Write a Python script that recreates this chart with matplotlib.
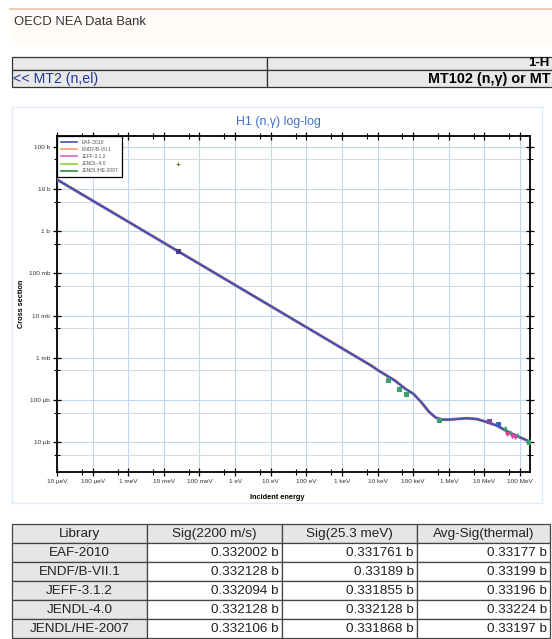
import matplotlib
matplotlib.use("Agg")

import matplotlib.pyplot as plt
from matplotlib.patches import Rectangle
from matplotlib.ticker import FixedLocator, FixedFormatter, LogLocator, NullFormatter

plt.rcParams["font.family"] = ["Liberation Sans", "DejaVu Sans"]

# ===========================================
# DATA
# ===========================================

LIBRARIES = ["EAF-2010", "ENDF/B-VII.1", "JEFF-3.1.2", "JENDL-4.0", "JENDL/HE-2007"]
LIB_COLORS = ["#4052c0", "#ff9a6a", "#d46ad0", "#8fcf3a", "#2f8a4a"]

# evaluated H1 (n,g) cross section (eV, barn)
ENERGY = [1e-5, 1e-4, 1e-3, 1e-2, 2.53e-2, 1e-1, 1.0, 10.0, 1e2, 1e3,
          6.7e3, 1e4, 3e4, 6e4, 1e5, 1.67e5, 2.78e5, 4.27e5, 6.56e5, 1e6,
          3.2e6, 6.2e6, 1e7, 2.2e7, 5.1e7, 1e8, 1.9e8]
SIGMA = [16.7, 5.28, 1.67, 0.528, 0.332, 0.167, 0.0528, 0.0167, 5.28e-3, 1.67e-3,
         6.45e-4, 5.1e-4, 2.9e-4, 1.83e-4, 1.4e-4, 8.9e-5, 5.2e-5, 3.8e-5, 3.4e-5, 3.4e-5,
         3.67e-5, 3.5e-5, 3.1e-5, 2.47e-5, 1.66e-5, 1.29e-5, 1.02e-5]

# experimental points
EXP_ENERGY = [0.0253, 0.0253, 2.0e4, 4.1e4, 6.3e4, 5.25e5, 1.35e7, 2.4e7,
              3.76e7, 5.1e7, 8.0e7, 4.2e7, 5.8e7, 7.4e7, 1.8e8]
EXP_SIGMA = [39.0, 0.332, 3.0e-4, 1.83e-4, 1.4e-4, 3.3e-5, 3.2e-5, 2.75e-5,
             2.1e-5, 1.75e-5, 1.46e-5, 1.55e-5, 1.38e-5, 1.33e-5, 1.02e-5]
EXP_COLOR = ["#6a8a3a", "#4a3a8a", "#3aa070", "#3aa070", "#3aa070", "#3aa070",
             "#7a4aa0", "#3a60c0", "#3aa070", "#3aa070", "#3aa070",
             "#e040a0", "#e040a0", "#e040a0", "#3aa070"]
EXP_MARKER = ["+", "s", "s", "s", "s", "s", "s", "s", "^", "^", "^", "v", "v", "v", "s"]

X_TICKS = [1e-5, 1e-4, 1e-3, 1e-2, 1e-1, 1, 10, 1e2, 1e3, 1e4, 1e5, 1e6, 1e7, 1e8]
X_LABELS = ["10 µeV", "100 µeV", "1 meV", "10 meV", "100 meV", "1 eV", "10 eV",
            "100 eV", "1 keV", "10 keV", "100 keV", "1 MeV", "10 MeV", "100 MeV"]
Y_TICKS = [1e-5, 1e-4, 1e-3, 1e-2, 1e-1, 1, 10, 100]
Y_LABELS = ["10 µb", "100 µb", "1 mb", "10 mb", "100 mb", "1 b", "10 b", "100 b"]

TABLE_HEADER = ["Library", "Sig(2200 m/s)", "Sig(25.3 meV)", "Avg-Sig(thermal)"]
SIG_2200 = [0.332002, 0.332128, 0.332094, 0.332128, 0.332106]
SIG_253 = [0.331761, 0.33189, 0.331855, 0.332128, 0.331868]
SIG_THERMAL = [0.33177, 0.33199, 0.33196, 0.33224, 0.33197]

# ===========================================
# PAGE
# ===========================================

W, H = 552, 639

fig = plt.figure(figsize=(W / 100, H / 100), dpi=100)
page = fig.add_axes([0, 0, 1, 1])
page.set_xlim(0, W)
page.set_ylim(H, 0)
page.axis("off")

page.add_patch(Rectangle((10, 9.5), W - 10, 36, facecolor="#fffbf8", lw=0))
page.plot([10, W], [9, 9], color="#f3c0a8", lw=1.2)
page.text(14, 22, "OECD NEA Data Bank", fontsize=9.4, color="#333333", va="center")

# navigation table
for (x0, y0, w, h) in [(12, 57, 255, 12.5), (267, 57, 300, 12.5),
                       (12, 69.5, 255, 17), (267, 69.5, 300, 17)]:
    page.add_patch(Rectangle((x0, y0), w, h, facecolor="#e8e8e8",
                             edgecolor="#333333", lw=0.9, clip_on=False))
page.text(528, 63.5, "1-H", fontsize=9.5, fontweight="bold", va="center")
page.text(13, 78.5, "<< MT2 (n,el)", fontsize=10.2, color="#22369a", va="center")
page.text(551, 78.5, "MT102 (n,γ) or MT", fontsize=10.4, fontweight="bold",
          ha="right", va="center")

# chart panel
page.add_patch(Rectangle((12, 107), 530, 396, facecolor="white",
                         edgecolor="#e0ebf5", lw=1.0))
page.text(278, 122, "H1 (n,γ) log-log", fontsize=8.9, color="#3d6fc9",
          ha="center", va="center")

# ===========================================
# CHART
# ===========================================

ax = fig.add_axes([57 / W, 1 - 472 / H, 473 / W, 336 / H])
ax.set_xscale("log")
ax.set_yscale("log")
ax.set_xlim(1e-5, 1.9e8)
ax.set_ylim(1.95e-6, 1.8e2)

order = [1, 2, 3, 4, 0]
widths = {0: 1.4, 1: 2.2, 2: 1.8, 3: 1.2, 4: 1.2}
for i in order:
    ax.plot(ENERGY, SIGMA, color=LIB_COLORS[i], lw=widths[i],
            zorder=3 + (i == 0))

# legend handles in the library order
handles = [plt.Line2D([], [], color=c, lw=1.2) for c in LIB_COLORS]
leg = ax.legend(handles, LIBRARIES, loc="upper left", bbox_to_anchor=(0, 1),
                borderaxespad=0, fontsize=3.6, handlelength=3.3,
                labelspacing=0.45, borderpad=0.7, handletextpad=0.9,
                fancybox=False, edgecolor="black", framealpha=1)
leg.get_frame().set_linewidth(0.9)
for t in leg.get_texts():
    t.set_color("#555555")

for e, s, c, m in zip(EXP_ENERGY, EXP_SIGMA, EXP_COLOR, EXP_MARKER):
    ax.plot(e, s, marker=m, color=c, ms=2.6, mew=0.8, ls="none", zorder=5)

ax.xaxis.set_major_locator(FixedLocator(X_TICKS))
ax.xaxis.set_major_formatter(FixedFormatter(X_LABELS))
ax.yaxis.set_major_locator(FixedLocator(Y_TICKS))
ax.yaxis.set_major_formatter(FixedFormatter(Y_LABELS))
ax.xaxis.set_minor_locator(LogLocator(base=10, subs=(5,), numticks=30))
ax.yaxis.set_minor_locator(LogLocator(base=10, subs=(5,), numticks=30))
ax.xaxis.set_minor_formatter(NullFormatter())
ax.yaxis.set_minor_formatter(NullFormatter())

ax.tick_params(which="major", direction="inout", length=6, width=0.9,
               labelsize=4.6, pad=2, top=True, right=True, colors="black",
               labelcolor="#333333")
ax.tick_params(which="minor", direction="inout", length=4, width=0.8,
               top=True, right=True)

ax.grid(True, which="major", color="#c2d8ea", lw=0.8)
ax.grid(True, which="minor", axis="y", color="#cfdbe4", lw=0.7)
ax.set_axisbelow(True)

for sp in ax.spines.values():
    sp.set_linewidth(1.3)

ax.set_xlabel("Incident energy", fontsize=5.3, fontweight="bold")
ax.set_ylabel("Cross section", fontsize=5.3, fontweight="bold")
ax.xaxis.set_label_coords((277 - 57) / 473, -0.065)
ax.yaxis.set_label_coords((25 - 57) / 473, 0.5)

# ===========================================
# RESULT TABLE
# ===========================================

col_x = [12, 147, 282, 417, 550]
row_h = 19
top = 524

rows = [TABLE_HEADER]
for lib, a, b, c in zip(LIBRARIES, SIG_2200, SIG_253, SIG_THERMAL):
    rows.append([lib, f"{a:g} b", f"{b:g} b", f"{c:g} b"])

for r, row in enumerate(rows):
    y0 = top + r * row_h
    for c, txt in enumerate(row):
        x0, x1 = col_x[c], col_x[c + 1]
        fc = "#e6e6e6" if (r == 0 or c == 0) else "white"
        page.add_patch(Rectangle((x0, y0), x1 - x0, row_h, facecolor=fc,
                                 edgecolor="#444444", lw=0.9))
        if r == 0 or c == 0:
            page.text((x0 + x1) / 2, y0 + row_h / 2 + 0.5, txt, fontsize=9.7,
                      color="#222222", ha="center", va="center")
        else:
            page.text(x1 - 3, y0 + row_h / 2 + 0.5, txt, fontsize=9.7,
                      color="#222222", ha="right", va="center")

fig.savefig("out.png", dpi=100)
